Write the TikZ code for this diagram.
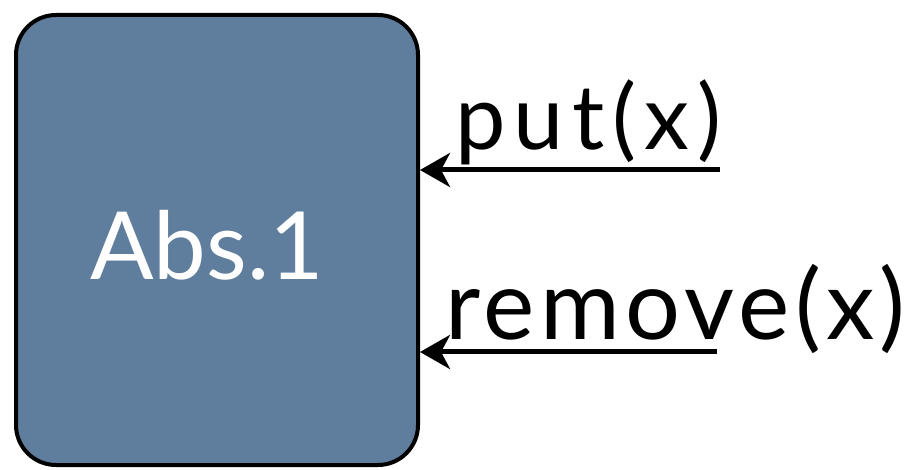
\documentclass[tikz,border=0pt]{standalone}
\usepackage{fontspec}
\setmainfont{Lato}
\usetikzlibrary{arrows.meta}
\definecolor{boxblue}{RGB}{95,125,156}
\tikzset{
  absbox/.style={draw=black, line width=4pt, fill=boxblue, rounded corners=40pt,
    minimum width=402pt, minimum height=450pt, inner sep=0pt},
  callarrow/.style={line width=5pt, -{Stealth[length=30pt,width=34pt,inset=9pt]}},
  msg/.style={anchor=base west, inner sep=0pt, text=black}
}
\begin{document}
\begin{tikzpicture}[x=1pt,y=-1pt]
\useasboundingbox (0,0) rectangle (916,470);
\node[absbox] (abs) at (217,240) {};
\node[anchor=base, inner sep=0pt, text=white, font=\fontsize{94}{100}\selectfont] (lbl) at (207,280) {Abs.1};
\node[msg, font=\fontsize{90}{94}\selectfont\addfontfeature{LetterSpace=9}] (put) at (455,150) {put(x)};
\node[msg, font=\fontsize{97}{100}\selectfont\addfontfeature{LetterSpace=5.5}] (rem) at (445,340) {remove(x)};
\coordinate (s1) at (720,170);
\coordinate (s2) at (717,352);
\draw[callarrow] (s1) -- (abs.east |- s1);
\draw[callarrow] (s2) -- (abs.east |- s2);
\end{tikzpicture}
\end{document}
